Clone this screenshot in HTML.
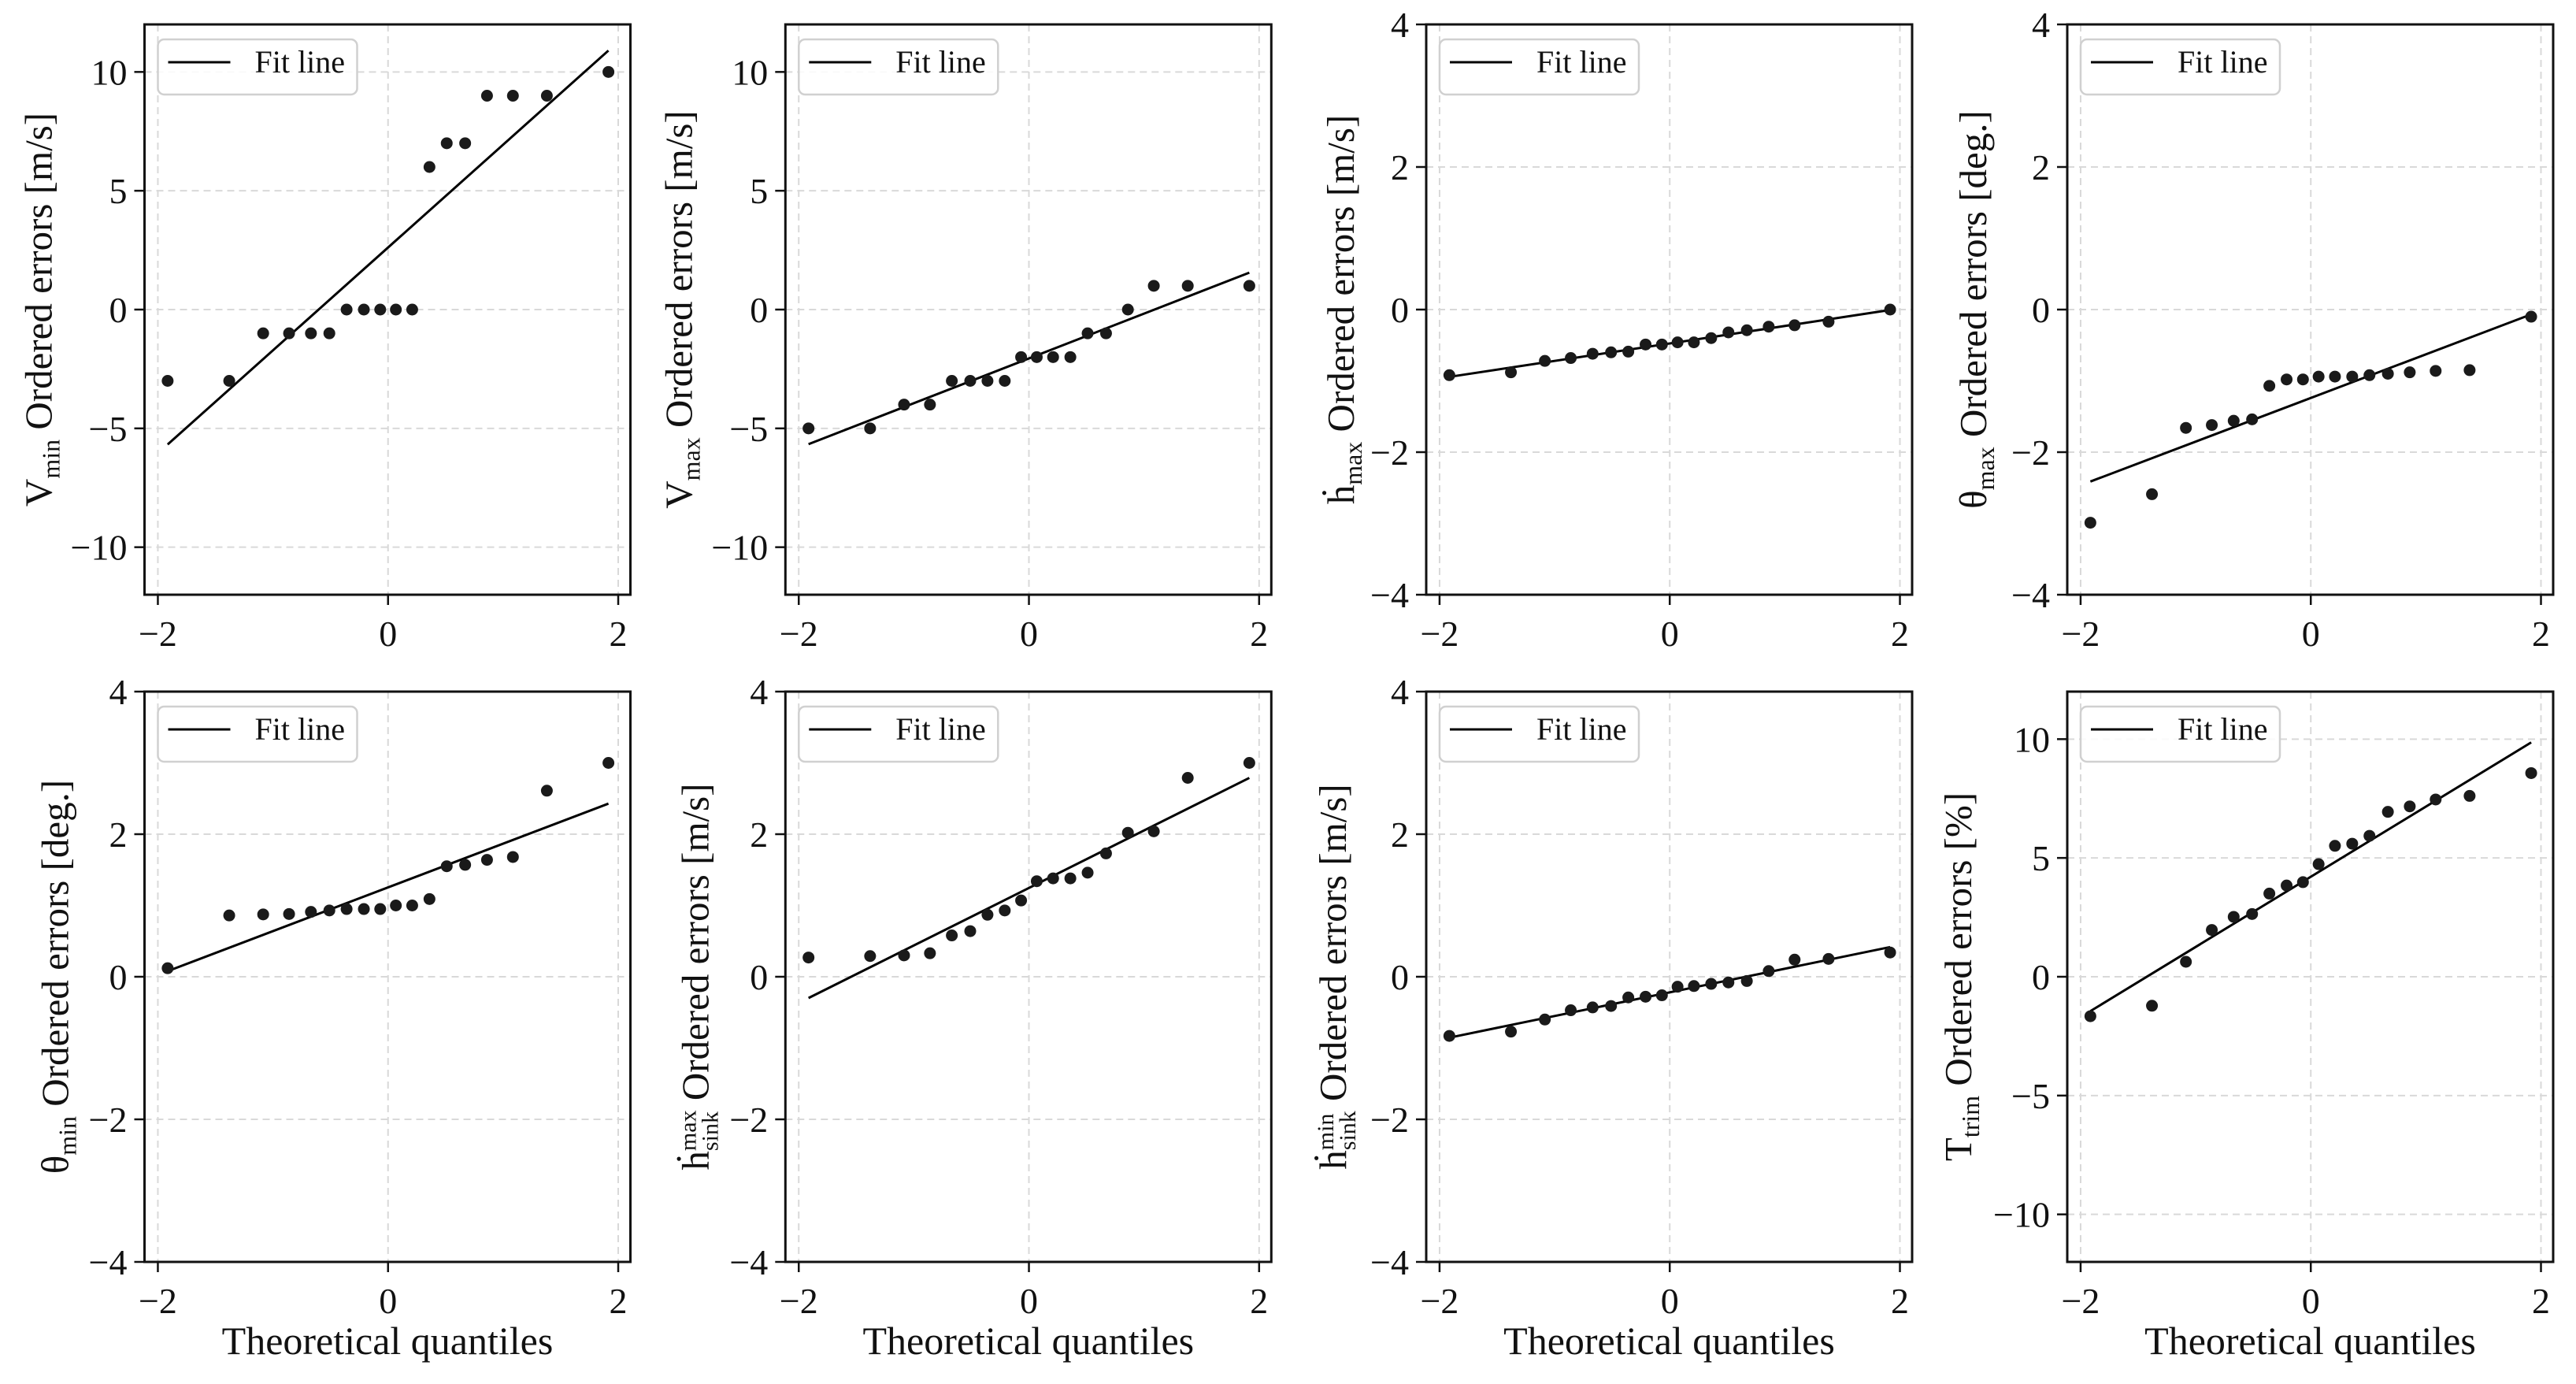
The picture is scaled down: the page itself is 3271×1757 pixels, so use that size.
<!DOCTYPE html>
<html><head><meta charset="utf-8"><style>
html,body{margin:0;padding:0;background:#fff;}
svg{display:block;font-family:"Liberation Serif",serif;}
</style></head><body>
<svg id="fig" width="3271" height="1757" viewBox="0 0 3271 1757" xmlns="http://www.w3.org/2000/svg"></svg>
<script>
// theoretical quantiles (shared)
const quantiles = [-1.915,-1.38,-1.085,-0.86,-0.67,-0.51,-0.36,-0.21,-0.068,0.068,0.21,0.36,0.51,0.67,0.86,1.085,1.38,1.915];
// ordered errors per panel
const vminErrors = [-3,-3,-1,-1,-1,-1,0,0,0,0,0,6,7,7,9,9,9,10];
const vmaxErrors = [-5,-5,-4,-4,-3,-3,-3,-3,-2,-2,-2,-2,-1,-1,0,1,1,1];
const hdotMaxErrors = [-0.92,-0.88,-0.72,-0.68,-0.62,-0.60,-0.59,-0.49,-0.49,-0.46,-0.46,-0.40,-0.32,-0.29,-0.24,-0.22,-0.17,0.0];
const thetaMaxErrors = [-2.99,-2.59,-1.66,-1.62,-1.56,-1.54,-1.07,-0.98,-0.98,-0.94,-0.94,-0.94,-0.92,-0.90,-0.88,-0.86,-0.85,-0.10];
const thetaMinErrors = [0.12,0.86,0.875,0.88,0.91,0.93,0.95,0.95,0.95,1.0,1.0,1.09,1.55,1.57,1.64,1.68,2.61,3.0];
const hsinkMaxErrors = [0.27,0.29,0.30,0.33,0.58,0.64,0.87,0.93,1.07,1.34,1.38,1.38,1.46,1.73,2.02,2.04,2.79,3.0];
const hsinkMinErrors = [-0.83,-0.77,-0.60,-0.47,-0.43,-0.41,-0.29,-0.28,-0.26,-0.14,-0.13,-0.10,-0.08,-0.06,0.08,0.24,0.25,0.34];
const ttrimErrors = [-1.66,-1.22,0.63,1.97,2.52,2.64,3.50,3.84,3.98,4.74,5.51,5.60,5.93,6.94,7.17,7.46,7.61,8.57];
// tick labels
const xTicks = [-2,0,2];
const yTicksWide = [-10,-5,0,5,10];
const yTicksNarrow = [-4,-2,0,2,4];

const NS = "http://www.w3.org/2000/svg";
const svg = document.getElementById('fig');
function mk(tag, attrs, parent){
  const e = document.createElementNS(NS, tag);
  for (const k in attrs) e.setAttribute(k, attrs[k]);
  (parent||svg).appendChild(e);
  return e;
}
function fmt(v){ return v<0 ? "\u2212"+Math.abs(v) : String(v); }

const panels = [
  {name:'vmin', data:vminErrors, wide:true, base:'V', sub:'min', sup:null, unit:' Ordered errors [m/s]', col:0, row:0, lab:-134},
  {name:'vmax', data:vmaxErrors, wide:true, base:'V', sub:'max', sup:null, unit:' Ordered errors [m/s]', col:1, row:0, lab:-135},
  {name:'hdot-max', data:hdotMaxErrors, wide:false, base:'\u1E23', sub:'max', sup:null, unit:' Ordered errors [m/s]', col:2, row:0, lab:-108},
  {name:'theta-max', data:thetaMaxErrors, wide:false, base:'\u03B8', sub:'max', sup:null, unit:' Ordered errors [deg.]', col:3, row:0, lab:-119},
  {name:'theta-min', data:thetaMinErrors, wide:false, base:'\u03B8', sub:'min', sup:null, unit:' Ordered errors [deg.]', col:0, row:1, lab:-113},
  {name:'hsink-max', data:hsinkMaxErrors, wide:false, base:'\u1E23', sub:'sink', sup:'max', unit:' Ordered errors [m/s]', col:1, row:1, lab:-114},
  {name:'hsink-min', data:hsinkMinErrors, wide:false, base:'\u1E23', sub:'sink', sup:'min', unit:' Ordered errors [m/s]', col:2, row:1, lab:-118},
  {name:'ttrim', data:ttrimErrors, wide:true, base:'T', sub:'trim', sup:null, unit:' Ordered errors [%]', col:3, row:1, lab:-138}
];

const W = 617;
const lefts = [183.5, 997.3, 1811, 2625];
const tops = [31, 878];
const H = 724;
const XMIN = -2.116, XMAX = 2.106;

panels.forEach(p => {
  const L = lefts[p.col], T = tops[p.row];
  const ymax = p.wide ? 12 : 4;
  const yTicks = p.wide ? yTicksWide : yTicksNarrow;
  const sx = v => L + (v - XMIN) / (XMAX - XMIN) * W;
  const sy = v => T + (ymax - v) / (2*ymax) * H;
  const g = mk('g', {});
  
  

  xTicks.forEach(t => {
    const l = mk('line', {x1:sx(t), x2:sx(t), y1:T, y2:T+H, stroke:'#d9d9d9', 'stroke-width':2, 'stroke-dasharray':'9,6'}, g);
    
    
  });
  yTicks.forEach(t => {
    const l = mk('line', {x1:L, x2:L+W, y1:sy(t), y2:sy(t), stroke:'#d9d9d9', 'stroke-width':2, 'stroke-dasharray':'9,6'}, g);
    
    
  });

  const n = quantiles.length;
  const mx = quantiles.reduce((a,b)=>a+b,0)/n;
  const my = p.data.reduce((a,b)=>a+b,0)/n;
  let sxy=0, sxx=0;
  for (let i=0;i<n;i++){ sxy += (quantiles[i]-mx)*(p.data[i]-my); sxx += (quantiles[i]-mx)**2; }
  const slope = sxy/sxx, icpt = my - slope*mx;
  const x0 = quantiles[0], x1 = quantiles[n-1];
  const fl = mk('line', {x1:sx(x0), y1:sy(icpt+slope*x0), x2:sx(x1), y2:sy(icpt+slope*x1), stroke:'#000', 'stroke-width':3}, g);
  
  

  for (let i=0;i<n;i++){
    const c = mk('circle', {cx:sx(quantiles[i]), cy:sy(p.data[i]), r:7.5, fill:'#1a1a1a'}, g);
    
    
  }

  const fr = mk('rect', {x:L, y:T, width:W, height:H, fill:'none', stroke:'#111', 'stroke-width':3}, g);
  
  

  xTicks.forEach(t => {
    const tk = mk('line', {x1:sx(t), x2:sx(t), y1:T+H, y2:T+H+13, stroke:'#111', 'stroke-width':2.5}, g);
    
    
    const tl = mk('text', {x:sx(t), y:T+H+65, 'text-anchor':'middle', 'font-size':46, fill:'#111'}, g);
    tl.textContent = fmt(t);
    
    
  });
  yTicks.forEach(t => {
    const tk = mk('line', {x1:L-13, x2:L, y1:sy(t), y2:sy(t), stroke:'#111', 'stroke-width':2.5}, g);
    
    
    const tl = mk('text', {x:L-22, y:sy(t)+16, 'text-anchor':'end', 'font-size':46, fill:'#111'}, g);
    tl.textContent = fmt(t);
    
    
  });

  const lg = mk('g', {}, g);
  
  
  mk('rect', {x:L+17, y:T+19, width:253, height:70, rx:8, fill:'rgba(255,255,255,0.85)', stroke:'#d0d0d0', 'stroke-width':2.5}, lg);
  const ll = mk('line', {x1:L+30, x2:L+109, y1:T+48, y2:T+48, stroke:'#000', 'stroke-width':3}, lg);
  
  
  const lt = mk('text', {x:L+140, y:T+61, 'font-size':40, fill:'#111'}, lg);
  lt.textContent = 'Fit line';
  
  

  if (p.row === 1){
    const xl = mk('text', {x:L+W/2, y:T+H+117, 'text-anchor':'middle', 'font-size':50, fill:'#111'}, g);
    xl.textContent = 'Theoretical quantiles';
    
    
  }

  const cx = L + p.lab, cy = T + H/2;
  const yl = mk('text', {transform:`translate(${cx+16},${cy}) rotate(-90)`, 'text-anchor':'middle', 'font-size':49, fill:'#111'}, g);
  
  
  const b = mk('tspan', {}, yl); b.textContent = p.base;
  if (p.sup){
    const sp = mk('tspan', {dy:-16, 'font-size':30}, yl); sp.textContent = p.sup;
    const spLen = sp.getComputedTextLength();
    const sb = mk('tspan', {dy:28, dx:-spLen, 'font-size':30}, yl); sb.textContent = p.sub;
    const sbLen = sb.getComputedTextLength();
    const rest = mk('tspan', {dy:-12, dx: Math.max(0, spLen - sbLen)}, yl); rest.textContent = p.unit;
  } else {
    const sb = mk('tspan', {dy:10, 'font-size':32}, yl); sb.textContent = p.sub;
    const rest = mk('tspan', {dy:-10}, yl); rest.textContent = p.unit;
  }
});
</script>
</body></html>
